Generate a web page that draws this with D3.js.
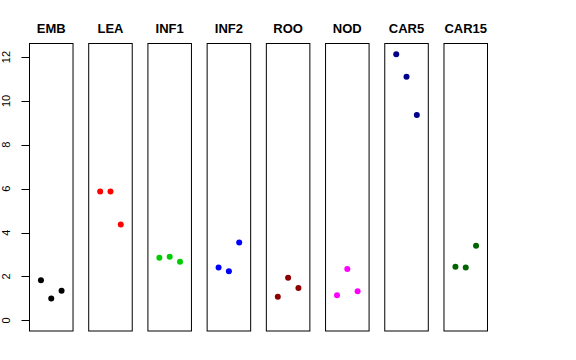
<!DOCTYPE html>
<html><head><meta charset="utf-8">
<script src="https://cdn.jsdelivr.net/npm/d3@7"></script>
<style>body{margin:0;background:#fff}svg{display:block}</style>
</head><body>
<script>
const categories = ["EMB","LEA","INF1","INF2","ROO","NOD","CAR5","CAR15"];
const replicate1 = [1.83, 5.87, 2.85, 2.41, 1.07, 1.14, 12.13, 2.44];
const replicate2 = [1.00, 5.87, 2.90, 2.24, 1.94, 2.34, 11.10, 2.41];
const replicate3 = [1.35, 4.37, 2.67, 3.55, 1.47, 1.33, 9.36, 3.40];
const colors = ["#000000","#FF0000","#00CD00","#0000FF","#8B0000","#FF00FF","#00008B","#006400"];
const yTicks = [0, 2, 4, 6, 8, 10, 12];

(function () {
const W = 576, H = 360;
const svg = d3.select("body").append("svg").attr("width", W).attr("height", H);
const plotTop = 43.5, plotBottom = 331, plotLeft = 29, plotRight = 488;

const reps = [replicate1, replicate2, replicate3];
const ymax = d3.max(reps.flat());
const y = d3.scaleLinear().domain([-0.04 * ymax, ymax * 1.04]).range([plotBottom, plotTop]);
const band = d3.scaleBand().domain(categories).range([plotLeft, plotRight]).paddingInner(0.248).paddingOuter(0);
const bw = band.bandwidth();
const x = d3.scaleLinear().domain([-0.16, 4.16]).range([0, bw]);

categories.forEach((c, i) => {
  const g = svg.append("g").attr("transform", `translate(${band(c)},0)`);
  g.append("rect").attr("x", 0.5).attr("y", plotTop).attr("width", bw - 1).attr("height", plotBottom - plotTop)
    .attr("fill", "none").attr("stroke", "#000").attr("stroke-width", 1);
  g.append("text").attr("x", bw / 2).attr("y", 33).attr("text-anchor", "middle")
    .attr("font-family", "Liberation Sans, Arial, sans-serif").attr("font-weight", "bold")
    .attr("font-size", 13).text(c);
  reps.forEach((r, j) => {
    g.append("circle").attr("cx", x(j + 1)).attr("cy", y(r[i])).attr("r", 3).attr("fill", colors[i]);
  });
});

const ax = svg.append("g").attr("transform", `translate(${plotLeft + 0.5},0)`);
ax.append("line").attr("x1", 0).attr("x2", 0).attr("y1", y(0)).attr("y2", y(12)).attr("stroke", "#000");
yTicks.forEach(t => {
  ax.append("line").attr("x1", -8).attr("x2", 0).attr("y1", Math.round(y(t)) + 0.5).attr("y2", Math.round(y(t)) + 0.5).attr("stroke", "#000");
  ax.append("text").attr("transform", `translate(${-20},${y(t)}) rotate(-90)`)
    .attr("text-anchor", "middle").attr("font-family", "Liberation Sans, Arial, sans-serif")
    .attr("font-size", 11).text(t);
});
})();
</script>
</body></html>
